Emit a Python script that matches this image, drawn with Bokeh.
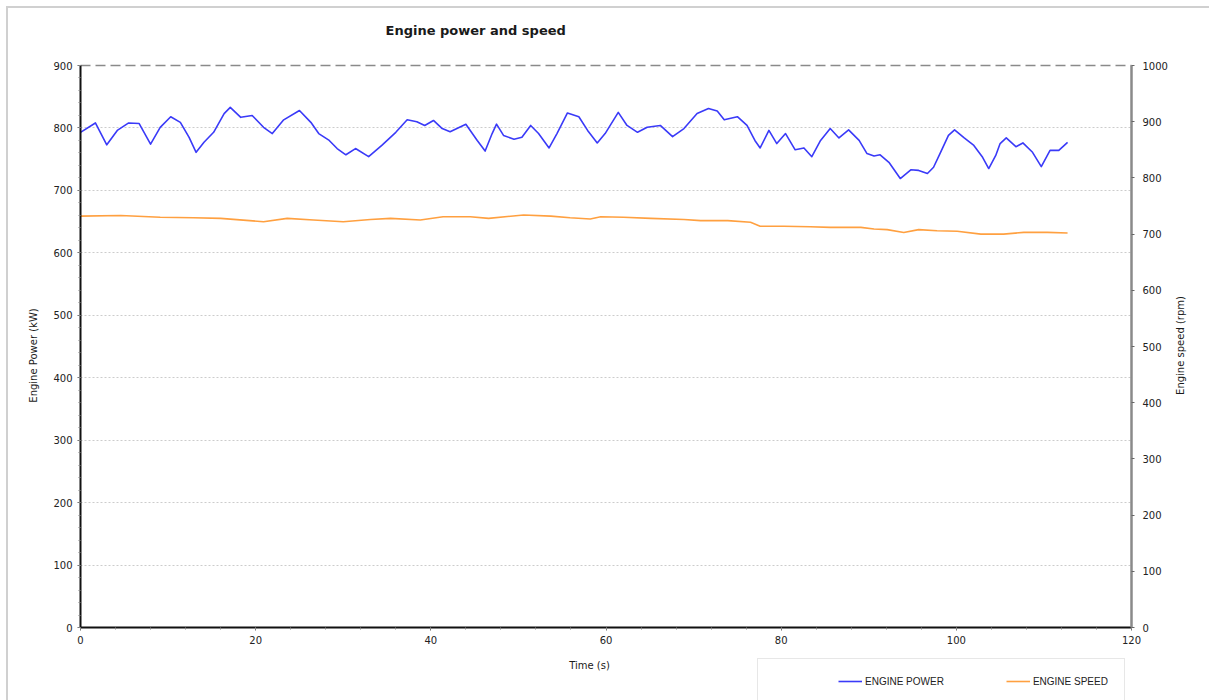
from math import pi
from bokeh.plotting import figure
from bokeh.models import (Range1d, LinearAxis, SingleIntervalTicker, FixedTicker,
                          Legend, LegendItem, Label, ColumnDataSource)
from bokeh.embed import file_html
from bokeh.resources import INLINE

# ---- data ----
power_time = [0.0, 1.7, 3.0, 4.2, 5.5, 6.7, 8.0, 9.1, 10.3, 11.4, 12.4, 13.2, 14.1, 15.2,
              16.4, 17.1, 18.3, 19.6, 20.9, 21.9, 23.2, 25.0, 26.3, 27.2, 28.4, 29.3,
              30.3, 31.4, 32.9, 34.4, 36.0, 37.3, 38.4, 39.3, 40.3, 41.3, 42.2, 44.0,
              45.3, 46.2, 47.0, 47.5, 48.3, 49.5, 50.4, 51.4, 52.3, 53.5, 54.4, 55.6,
              56.9, 57.9, 59.0, 59.9, 61.4, 62.4, 63.6, 64.7, 66.2, 67.6, 68.9, 70.4,
              71.7, 72.7, 73.5, 75.0, 76.1, 77.0, 77.6, 78.6, 79.5, 80.5, 81.6, 82.6,
              83.5, 84.5, 85.6, 86.6, 87.7, 88.9, 89.8, 90.6, 91.3, 92.3, 93.6, 94.8,
              95.7, 96.7, 97.4, 98.2, 99.1, 99.8, 100.9, 102.0, 103.0, 103.7, 104.5,
              105.0, 105.7, 106.8, 107.6, 108.7, 109.7, 110.7, 111.7, 112.7]
power_kw = [793, 808, 773, 796, 808, 807, 774, 801, 818, 809, 785, 761, 777, 793,
            823, 833, 817, 820, 801, 791, 813, 828, 809, 791, 780, 767,
            757, 767, 754, 772, 793, 813, 810, 804, 812, 799, 794, 806,
            780, 763, 791, 806, 788, 782, 785, 804, 791, 768, 791, 824,
            818, 796, 776, 791, 825, 804, 793, 801, 804, 786, 799, 823,
            831, 827, 813, 818, 804, 780, 768, 796, 775, 791, 765, 768,
            754, 780, 799, 784, 797, 780, 759, 755, 757, 745, 719, 733,
            732, 727, 737, 761, 788, 797, 784, 772, 753, 735, 756,
            775, 784, 770, 776, 761, 738, 764, 764, 777]

speed_time = [0.0, 4.6, 9.1, 12.9, 16.0, 20.9, 23.6, 26.6, 30.0, 33.1, 35.4, 38.8,
              41.4, 44.5, 46.6, 50.6, 53.7, 55.9, 58.2, 59.4, 62.0, 65.1, 68.9, 70.8,
              73.9, 76.5, 77.6, 80.3, 83.3, 85.6, 89.1, 90.6, 92.1, 94.0, 95.7, 97.8,
              100.1, 102.8, 105.4, 107.7, 110.4, 112.7]
speed_rpm = [732, 733, 730, 729, 728, 722, 728, 725, 722, 726, 728, 725,
             731, 731, 728, 734, 732, 729, 727, 731, 730, 728, 726, 724,
             724, 721, 714, 714, 713, 712, 712, 709, 708, 703, 708, 706,
             705, 700, 700, 703, 703, 702]

series_labels = ["ENGINE POWER", "ENGINE SPEED"]
title_text = "Engine power and speed"
x_label = "Time (s)"
power_label = "Engine Power (kW)"
speed_label = "Engine speed (rpm)"
x_max, power_max, speed_max = 120, 900, 1000
x_ticks_interval = 20
power_ticks_interval = 100
speed_ticks_interval = 100

FONT = "DejaVu Sans"

# ---- layout in pixels (frame fills the whole canvas, axes sit at fixed spots) ----
W, H = 1209, 700
PX_LEFT, PX_RIGHT = 80, 1131      # x = 0 and x = 120
PX_TOP, PX_BOTTOM = 65, 627       # y = max and y = 0
sx = (PX_RIGHT - PX_LEFT) / x_max
sy = (PX_BOTTOM - PX_TOP) / power_max
ss = (PX_BOTTOM - PX_TOP) / speed_max

x_range = Range1d(-PX_LEFT / sx, (W - PX_LEFT) / sx)
y_range = Range1d(-(H - PX_BOTTOM) / sy, power_max + PX_TOP / sy)
s_range = Range1d(-(H - PX_BOTTOM) / ss, speed_max + PX_TOP / ss)

p = figure(width=W, height=H, output_backend="svg", toolbar_location=None,
           x_range=x_range, y_range=y_range,
           min_border_left=0, min_border_right=0, min_border_top=0,
           min_border_bottom=0,
           background_fill_alpha=0, border_fill_alpha=0)
p.title.visible = False
p.outline_line_color = None
p.styles = {
    "background": "linear-gradient(#d0d0d0,#d0d0d0) 6px 6px / 100% 2px no-repeat, "
                  "linear-gradient(#d0d0d0,#d0d0d0) 6px 6px / 2px 100% no-repeat, white"
}
p.extra_y_ranges = {"speed": s_range}

# axes
xa = p.xaxis[0]
xa.ticker = SingleIntervalTicker(interval=x_ticks_interval, num_minor_ticks=5)
xa.fixed_location = 0
xa.bounds = (0, x_max)
ya = p.yaxis[0]
ya.ticker = SingleIntervalTicker(interval=power_ticks_interval, num_minor_ticks=5)
ya.fixed_location = 0
ya.bounds = (0, power_max)

ra = LinearAxis(y_range_name="speed",
                ticker=SingleIntervalTicker(interval=speed_ticks_interval, num_minor_ticks=0),
                fixed_location=x_max, bounds=(0, speed_max))
p.add_layout(ra, "right")

ta = LinearAxis(ticker=FixedTicker(ticks=[], minor_ticks=[]),
                fixed_location=power_max, bounds=(0, x_max),
                axis_line_color="#8a8a8a", axis_line_dash="10 5", axis_line_width=1.5)
p.add_layout(ta, "above")

for ax in (xa, ya, ra):
    ax.major_label_text_font = FONT
    ax.major_label_text_font_size = "10px"
    ax.major_label_text_color = "#222222"
    ax.major_tick_in = 0
    ax.major_tick_out = 3
    ax.minor_tick_in = 0
    ax.minor_tick_out = 2
    ax.major_tick_line_color = "#666666"
    ax.minor_tick_line_color = "#888888"

xa.axis_line_color = "#111111"
xa.axis_line_width = 2
xa.major_label_standoff = 5
ya.axis_line_color = "#111111"
ya.axis_line_width = 2
ya.major_label_standoff = 5
ra.axis_line_color = "#8a8a8a"
ra.axis_line_width = 2.5
ra.major_label_standoff = 8

p.xgrid.grid_line_color = None
g = p.ygrid[0]
g.ticker = ya.ticker
g.bounds = (power_ticks_interval / 2, power_max - power_ticks_interval / 2)
if "cross_bounds" in g.properties():
    g.cross_bounds = (0, x_max)
g.grid_line_color = "#cccccc"
g.grid_line_dash = "2 2"
g.grid_line_width = 1

# lines
src_p = ColumnDataSource(dict(t=power_time, v=power_kw))
src_s = ColumnDataSource(dict(t=speed_time, v=speed_rpm))
r_power = p.line("t", "v", source=src_p, line_color="#3a3af8", line_width=1.6,
                 line_join="round")
r_speed = p.line("t", "v", source=src_s, line_color="#ffa040", line_width=1.6,
                 y_range_name="speed", line_join="round")

# texts (screen units from the bottom-left corner of the canvas/frame)
def add_text(text, x, y, angle=0.0, size="10px", style="normal", align="center"):
    p.add_layout(Label(x=x, y=H - y, x_units="screen", y_units="screen", text=text,
                       angle=angle, text_align=align, text_baseline="middle",
                       text_font=FONT, text_font_size=size, text_font_style=style,
                       text_color="#1a1a1a"))

add_text(title_text, 385, 30, size="13px", style="bold", align="left")
add_text(power_label, 33, 355, angle=pi / 2)
add_text(speed_label, 1180, 345, angle=pi / 2)
add_text(x_label, 589, 665)

legend = Legend(items=[LegendItem(label=series_labels[0], renderers=[r_power]),
                       LegendItem(label=series_labels[1], renderers=[r_speed])],
                orientation="horizontal", location=(757, -4),
                title=" ", title_location="left", title_standoff=53,
                title_text_font_size="10px",
                padding=16, spacing=62, label_standoff=3,
                glyph_width=24, glyph_height=12, label_height=12,
                label_text_font="Liberation Sans", label_text_font_size="10px",
                label_text_color="#222222",
                border_line_color="#d0d0d0", border_line_width=1.5,
                background_fill_color="white", background_fill_alpha=1)
p.add_layout(legend)

open("out.html", "w").write(file_html(p, INLINE))
